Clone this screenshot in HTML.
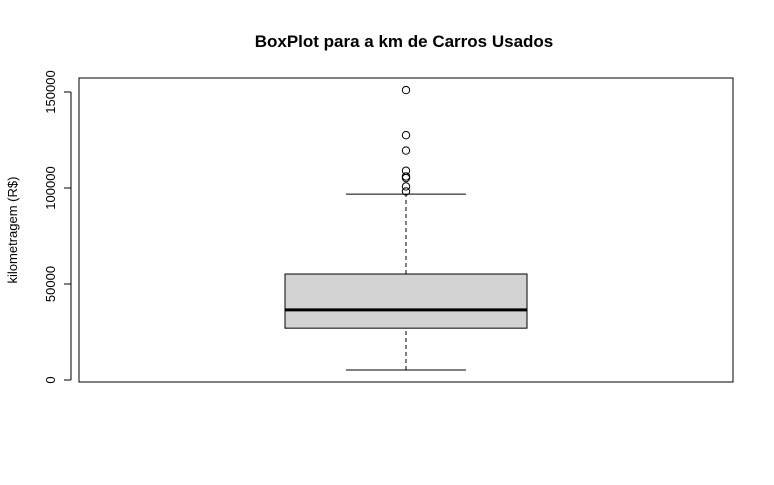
<!DOCTYPE html>
<html><head><meta charset="utf-8"><style>
body{margin:0;background:#fff;font-family:"Liberation Sans",sans-serif}
</style></head><body>
<svg width="774" height="480" xmlns="http://www.w3.org/2000/svg">
<rect width="774" height="480" fill="#fff"/>
<text x="404" y="47" text-anchor="middle" font-size="17" font-weight="bold" font-family="Liberation Sans">BoxPlot para a km de Carros Usados</text>
<rect x="79" y="78" width="654" height="304" fill="none" stroke="#000"/>
<text transform="translate(17,230) rotate(-90)" text-anchor="middle" font-size="13">kilometragem (R$)</text>
<g id="axis"></g>
<g id="box"></g>
</svg>
<script>
const ticks=[0,50000,100000,150000];
const stats=[5200,27000,36500,55200,96800];
const outliers=[151000,127500,119500,109000,106000,105200,100800,98200];
const ns="http://www.w3.org/2000/svg";
function y(v){return 380-v*0.00192;}
const cx=406,hw=121,ww=60;
function mk(t,a,p){const e=document.createElementNS(ns,t);for(const k in a)e.setAttribute(k,a[k]);p.appendChild(e);return e;}
const ax=document.getElementById('axis'),bx=document.getElementById('box');
const al=mk('line',{x1:71,x2:71,y1:y(ticks[0]),y2:y(ticks[ticks.length-1]),stroke:'#000'},ax);


ticks.forEach(t=>{
 const l=mk('line',{x1:64,x2:71,y1:y(t),y2:y(t),stroke:'#000'},ax);
 
 
 const tx=mk('text',{transform:`translate(55,${y(t)}) rotate(-90)`,'text-anchor':'middle','font-size':13},ax);
 tx.textContent=t;
 
 
});
const w1=mk('line',{x1:cx,x2:cx,y1:y(stats[0]),y2:y(stats[1]),stroke:'#000','stroke-dasharray':'4,3'},bx);


const w2=mk('line',{x1:cx,x2:cx,y1:y(stats[3]),y2:y(stats[4]),stroke:'#000','stroke-dasharray':'4,3'},bx);


const c1=mk('line',{x1:cx-ww,x2:cx+ww,y1:y(stats[0]),y2:y(stats[0]),stroke:'#000'},bx);


const c2=mk('line',{x1:cx-ww,x2:cx+ww,y1:y(stats[4]),y2:y(stats[4]),stroke:'#000'},bx);


const r=mk('rect',{x:cx-hw,y:y(stats[3]),width:2*hw,height:y(stats[1])-y(stats[3]),fill:'#d3d3d3',stroke:'#000'},bx);


const m=mk('line',{x1:cx-hw,x2:cx+hw,y1:y(stats[2]),y2:y(stats[2]),stroke:'#000','stroke-width':3},bx);


outliers.forEach(o=>{
 const c=mk('circle',{cx:cx,cy:y(o),r:3.7,fill:'none',stroke:'#000'},bx);
 
 
});
</script>
</body></html>
